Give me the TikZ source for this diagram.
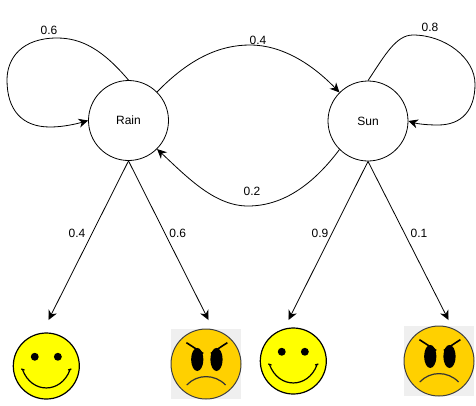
\documentclass[tikz,border=0pt]{standalone}
\usepackage{fontspec}
\setmainfont{Liberation Sans}
\usetikzlibrary{arrows.meta}
\definecolor{happyyellow}{HTML}{FFFF00}
\definecolor{angryyellow}{HTML}{FFD000}
\definecolor{angryback}{HTML}{EFEFEF}
\begin{document}
\begin{tikzpicture}[
    x=1pt, y=1pt,
    state/.style={draw, circle, minimum size=80pt, inner sep=0pt, line width=0.8pt, font=\fontsize{12}{14}\selectfont},
    trans/.style={-{Stealth[length=9.5pt,width=9pt,inset=3pt]}, line width=0.8pt},
    lbl/.style={font=\fontsize{12}{14}\selectfont, inner sep=0pt},
    happy/.style={draw, circle, minimum size=66pt, inner sep=0pt, line width=1.2pt, fill=happyyellow},
    angry/.style={draw=black!75, circle, minimum size=70pt, inner sep=0pt, line width=1pt, fill=angryyellow},
    backing/.style={fill=angryback, minimum width=70pt, minimum height=70pt, inner sep=0pt},
    smile/.pic={
        \fill (-0.35,0.28) circle (0.12);
        \fill (0.35,0.28) circle (0.12);
        \draw[line width=1.2pt] (-0.72,-0.11) .. controls (-0.45,-0.85) and (0.45,-0.85) .. (0.72,-0.11);
        \draw[line width=1.2pt] (-0.76,-0.09) -- (-0.66,-0.12);
        \draw[line width=1.2pt] (0.76,-0.09) -- (0.66,-0.12);
    },
    scowl/.pic={
        \fill (-0.25,0.13) ellipse (0.175 and 0.33);
        \fill (0.30,0.13) ellipse (0.175 and 0.33);
        \draw[line width=1.6pt] (-0.56,0.61) -- (-0.08,0.30);
        \draw[line width=1.6pt] (0.61,0.61) -- (0.14,0.30);
        \draw[line width=1.2pt, draw=black!80] (-0.55,-0.60) .. controls (-0.25,-0.28) and (0.25,-0.28) .. (0.56,-0.60);
    }
]

\useasboundingbox (0,0) rectangle (476,-405);

\node[state] (rain) at (128.5,-120.5) {Rain};
\node[state] (sun)  at (368,-121)     {Sun};

% faces along the bottom
\node[happy] (rainhappy) at (46.3,-366) {};
\pic[scale=33] at (rainhappy) {smile};
\node[backing] (rainback) at (206,-364) {};
\node[angry] (rainangry) at (206,-364) {};
\pic[scale=35] at (rainangry) {scowl};
\node[happy] (sunhappy) at (293.3,-361) {};
\pic[scale=33] at (sunhappy) {smile};
\node[backing] (sunback) at (439,-361) {};
\node[angry] (sunangry) at (439,-361) {};
\pic[scale=35] at (sunangry) {scowl};

\coordinate (rainhappyend) at (48.5,-320);
\coordinate (rainangryend) at (208.5,-320);
\coordinate (sunhappyend) at (288.5,-320);
\coordinate (sunangryend) at (448.5,-320);

\draw[trans] (rain.south) -- (rainhappyend);
\draw[trans] (rain.south) -- (rainangryend);
\draw[trans] (sun.south) -- (sunhappyend);
\draw[trans] (sun.south) -- (sunangryend);

\draw[trans] (rain.north) .. controls (103,-50) and (82,-38) .. (57,-38)
    .. controls (22,-38) and (7,-58) .. (7,-80)
    .. controls (7,-110) and (22,-127) .. (50,-127)
    .. controls (63,-127) and (76,-124) .. (rain.west);
\draw[trans] (rain.north east) .. controls (190,-58) and (220,-45) .. (250,-45)
    .. controls (282,-45) and (312,-64) .. (sun.north west);
\draw[trans] (sun.south west) .. controls (318,-178) and (288,-206) .. (248,-206)
    .. controls (215,-206) and (188,-178) .. (rain.south east);
\draw[trans] (sun.north) .. controls (385,-55) and (396,-35) .. (413,-35)
    .. controls (445,-35) and (475,-58) .. (475,-84)
    .. controls (475,-110) and (462,-125) .. (438,-125)
    .. controls (428,-125) and (418,-124) .. (sun.east);

\node[lbl] (rainrain) at (49,-30)  {0.6};
\node[lbl] (rainsun)  at (258,-40) {0.4};
\node[lbl] (sunrain)  at (252,-191) {0.2};
\node[lbl] (sunsun)   at (430,-27) {0.8};
\node[lbl] (rainh)    at (77,-233)  {0.4};
\node[lbl] (raina)    at (177.7,-233) {0.6};
\node[lbl] (sunh)     at (320,-233) {0.9};
\node[lbl] (suna)     at (419,-233) {0.1};

\end{tikzpicture}
\end{document}
